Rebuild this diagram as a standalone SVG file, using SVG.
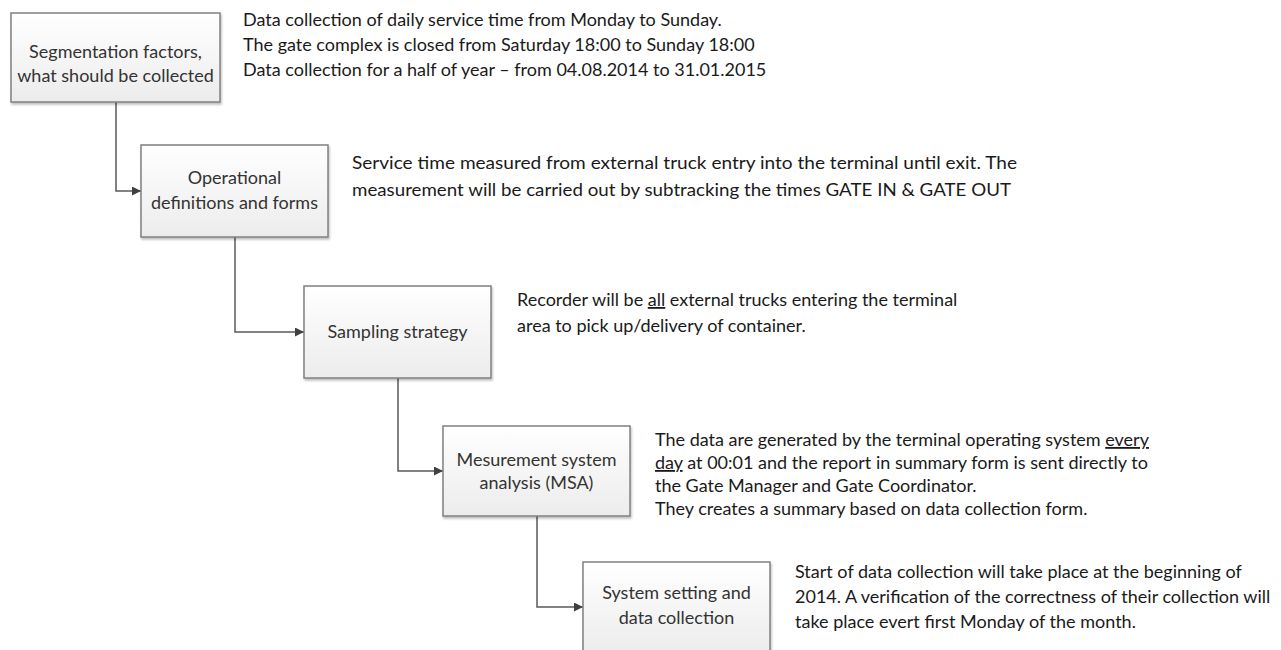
<svg xmlns="http://www.w3.org/2000/svg" width="1281" height="650" viewBox="0 0 1281 650">
  <defs>
    <linearGradient id="boxFill" x1="0" y1="0" x2="0" y2="1">
      <stop offset="0" stop-color="#ffffff"/>
      <stop offset="1" stop-color="#ececec"/>
    </linearGradient>
    <filter id="shadow" x="-10%" y="-10%" width="120%" height="130%">
      <feDropShadow dx="1" dy="2" stdDeviation="1.2" flood-color="#000" flood-opacity="0.25"/>
    </filter>
    <marker id="arrow" viewBox="0 0 10 10" refX="10" refY="5" markerWidth="10" markerHeight="9" markerUnits="userSpaceOnUse" orient="auto">
      <path d="M0,0 L10,5 L0,10 z" fill="#404040"/>
    </marker>
    <style>
      .box { fill: url(#boxFill); stroke: #808080; stroke-width: 1.5; filter: url(#shadow); }
      .label { font-family: Lato, "Liberation Sans", sans-serif; font-size: 18px; fill: #333; text-anchor: middle; }
      .note { font-family: Lato, "Liberation Sans", sans-serif; font-size: 18px; fill: #1a1a1a; }
      .link { fill: none; stroke: #595959; stroke-width: 1.5; marker-end: url(#arrow); }
      .u { text-decoration: underline; }
    </style>
  </defs>

  <!-- connectors between successive steps -->
  <g id="connectors">
    <path class="link" d="M116,102 V191 H141"/>
    <path class="link" d="M235,237 V332 H304"/>
    <path class="link" d="M398,378 V471 H443"/>
    <path class="link" d="M537,516 V607 H583"/>
  </g>

  <g id="step1">
    <rect class="box" x="11" y="13" width="209" height="89"/>
    <text class="label" x="115.5" y="58">Segmentation factors,</text>
    <text class="label" x="115.5" y="82">what should be collected</text>
  </g>
  <g id="step2">
    <rect class="box" x="141" y="145" width="187" height="92"/>
    <text class="label" x="234.5" y="184">Operational</text>
    <text class="label" x="234.5" y="209">definitions and forms</text>
  </g>
  <g id="step3">
    <rect class="box" x="304" y="286" width="187" height="92"/>
    <text class="label" x="397.5" y="338">Sampling strategy</text>
  </g>
  <g id="step4">
    <rect class="box" x="443" y="426" width="187" height="90"/>
    <text class="label" x="536.5" y="466">Mesurement system</text>
    <text class="label" x="536.5" y="489">analysis (MSA)</text>
  </g>
  <g id="step5">
    <rect class="box" x="583" y="562" width="187" height="92"/>
    <text class="label" x="676.5" y="599">System setting and</text>
    <text class="label" x="676.5" y="624">data collection</text>
  </g>

  <!-- notes beside each step -->
  <g id="note1" class="note">
    <text x="243" y="26">Data collection of daily service time from Monday to Sunday.</text>
    <text x="243" y="51">The gate complex is closed from Saturday 18:00 to Sunday 18:00</text>
    <text x="243" y="76">Data collection for a half of year – from 04.08.2014 to 31.01.2015</text>
  </g>
  <g id="note2" class="note">
    <text x="352" y="169" textLength="665" lengthAdjust="spacingAndGlyphs">Service time measured from external truck entry into the terminal until exit. The</text>
    <text x="352" y="196" textLength="659" lengthAdjust="spacingAndGlyphs">measurement will be carried out by subtracking the times GATE IN &amp; GATE OUT</text>
  </g>
  <g id="note3" class="note">
    <text x="517" y="306">Recorder will be <tspan class="u">all</tspan> external trucks entering the terminal</text>
    <text x="517" y="332">area to pick up/delivery of container.</text>
  </g>
  <g id="note4" class="note">
    <text x="655" y="446">The data are generated by the terminal operating system <tspan class="u">every</tspan></text>
    <text x="655" y="469"><tspan class="u">day</tspan> at 00:01 and the report in summary form is sent directly to</text>
    <text x="655" y="492">the Gate Manager and Gate Coordinator.</text>
    <text x="655" y="515">They creates a summary based on data collection form.</text>
  </g>
  <g id="note5" class="note">
    <text x="795" y="578">Start of data collection will take place at the beginning of</text>
    <text x="795" y="603">2014. A verification of the correctness of their collection will</text>
    <text x="795" y="628">take place evert first Monday of the month.</text>
  </g>
</svg>
